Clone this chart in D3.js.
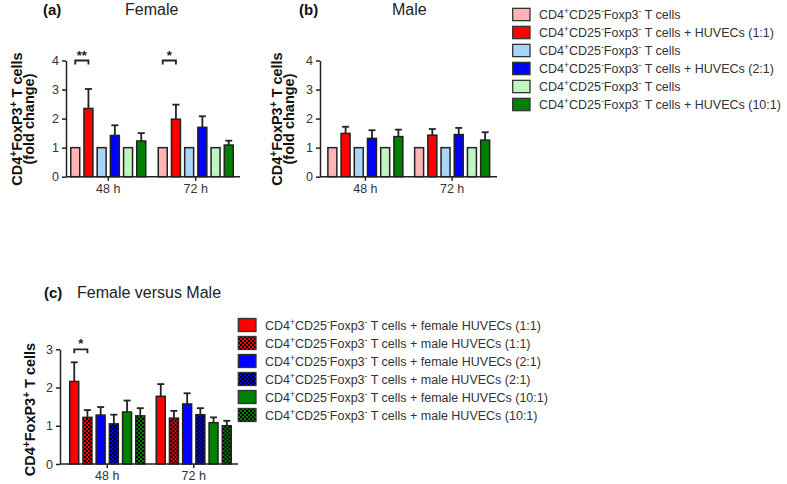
<!DOCTYPE html>
<html><head><meta charset="utf-8">
<script src="https://cdn.jsdelivr.net/npm/d3@7/dist/d3.min.js"></script>
<style>
body{margin:0;background:#fff;}
svg text{font-family:"Liberation Sans",Arial,sans-serif;fill:#222;}
</style></head>
<body><svg id="c" width="787" height="484"></svg>
<script>
// ---------- DATA ----------
const timepoints = ["48 h", "72 h"];
const yTicksAB = [0, 1, 2, 3, 4];
const yTicksC = [0, 1, 2, 3];

const seriesAB = [
  "CD4{+}CD25{-}Foxp3{-} T cells",
  "CD4{+}CD25{-}Foxp3{-} T cells + HUVECs (1:1)",
  "CD4{+}CD25{-}Foxp3{-} T cells",
  "CD4{+}CD25{-}Foxp3{-} T cells + HUVECs (2:1)",
  "CD4{+}CD25{-}Foxp3{-} T cells",
  "CD4{+}CD25{-}Foxp3{-} T cells + HUVECs (10:1)"
];
const colorsAB = ["#ffb5b5", "#ff0000", "#a8d6fa", "#0000ff", "#bff5bf", "#008000"];

// Female fold change (rows = timepoints, cols = series)
const femaleMean48 = [1, 2.35, 1, 1.42, 1, 1.23];
const femaleSem48  = [0, 0.67, 0, 0.35, 0, 0.27];
const femaleMean72 = [1, 1.98, 1, 1.70, 1, 1.09];
const femaleSem72  = [0, 0.50, 0, 0.38, 0, 0.15];

// Male fold change
const maleMean48 = [1, 1.49, 1, 1.32, 1, 1.38];
const maleSem48  = [0, 0.23, 0, 0.28, 0, 0.24];
const maleMean72 = [1, 1.43, 1, 1.45, 1, 1.26];
const maleSem72  = [0, 0.21, 0, 0.23, 0, 0.27];

// Female versus Male
const seriesC = [
  "CD4{+}CD25{-}Foxp3{-} T cells + female HUVECs (1:1)",
  "CD4{+}CD25{-}Foxp3{-} T cells + male HUVECs (1:1)",
  "CD4{+}CD25{-}Foxp3{-} T cells + female HUVECs (2:1)",
  "CD4{+}CD25{-}Foxp3{-} T cells + male HUVECs (2:1)",
  "CD4{+}CD25{-}Foxp3{-} T cells + female HUVECs (10:1)",
  "CD4{+}CD25{-}Foxp3{-} T cells + male HUVECs (10:1)"
];
const colorsC = ["#ff0000", "#ff0000", "#0000ff", "#0000ff", "#008000", "#008000"];
const checkedC = [false, true, false, true, false, true];
const fvmMean48 = [2.16, 1.22, 1.28, 1.05, 1.36, 1.26];
const fvmSem48  = [0.50, 0.19, 0.21, 0.24, 0.30, 0.20];
const fvmMean72 = [1.77, 1.20, 1.57, 1.29, 1.08, 1.00];
const fvmSem72  = [0.32, 0.19, 0.28, 0.17, 0.14, 0.13];

// significance: [timepoint index, series i, series j, label]
const sigA = [[0, 0, 1, "**"], [1, 0, 1, "*"]];
const sigC = [[0, 0, 1, "*"]];

const yTitleAB = ["CD4{+}FoxP3{+} T cells", "(fold change)"];
const yTitleC = ["CD4{+}FoxP3{+} T cells"];

// ---------- DRAW ----------
const svg = d3.select("#c");
const defs = svg.append("defs");
["#ff0000", "#0000ff", "#008000"].forEach((c, i) => {
  const p = defs.append("pattern").attr("id", "chk" + i).attr("patternUnits", "userSpaceOnUse")
    .attr("width", 4).attr("height", 4);
  p.append("rect").attr("width", 4).attr("height", 4).attr("fill", c);
  p.append("rect").attr("width", 2).attr("height", 2).attr("fill", "#000");
  p.append("rect").attr("x", 2).attr("y", 2).attr("width", 2).attr("height", 2).attr("fill", "#000");
});
const chkId = {"#ff0000": "chk0", "#0000ff": "chk1", "#008000": "chk2"};

function richText(sel, str, supSize, shift) {
  const parts = str.split(/(\{[^}]*\})/).filter(s => s.length);
  let prevSup = false;
  parts.forEach(p => {
    if (p.startsWith("{")) {
      sel.append("tspan").attr("dy", prevSup ? 0 : -shift).attr("font-size", supSize).text(p.slice(1, -1));
      prevSup = true;
    } else {
      sel.append("tspan").attr("dy", prevSup ? shift : 0).text(p);
      prevSup = false;
    }
  });
}

function panel(o) {
  const g = svg.append("g");
  const y = d3.scaleLinear().domain([0, o.ticks[o.ticks.length - 1]]).range([o.y0, o.yTop]);
  const x0 = d3.scaleBand().domain(timepoints).range(o.xr);
  const step = x0.bandwidth();
  const gw = 75;
  const x1 = d3.scaleBand().domain(d3.range(6)).range([(step - gw) / 2, (step + gw) / 2]).paddingInner(0.32);

  const rows = [{t: timepoints[0], m: o.mean[0], s: o.sem[0]}, {t: timepoints[1], m: o.mean[1], s: o.sem[1]}];
  rows.forEach(r => {
    const gg = g.append("g").attr("transform", `translate(${x0(r.t)},0)`);
    r.m.forEach((v, i) => {
      const fill = o.checked && o.checked[i] ? `url(#${chkId[o.colors[i]]})` : o.colors[i];
      gg.append("rect").attr("x", x1(i)).attr("y", y(v)).attr("width", x1.bandwidth())
        .attr("height", y(0) - y(v)).attr("fill", fill).attr("stroke", "#222").attr("stroke-width", 1.5);
      if (r.s[i] > 0) {
        const cx = x1(i) + x1.bandwidth() / 2;
        gg.append("line").attr("x1", cx).attr("x2", cx).attr("y1", y(v)).attr("y2", y(v + r.s[i]))
          .attr("stroke", "#222").attr("stroke-width", 1.8);
        gg.append("line").attr("x1", cx - 3.5).attr("x2", cx + 3.5).attr("y1", y(v + r.s[i])).attr("y2", y(v + r.s[i]))
          .attr("stroke", "#222").attr("stroke-width", 1.8);
      }
    });
  });

  // axes
  const ya = g.append("g").attr("transform", `translate(${o.ax},0)`)
    .call(d3.axisLeft(y).tickValues(o.ticks).tickFormat(d3.format("d")).tickSize(4).tickSizeOuter(0).tickPadding(3));
  ya.select(".domain").attr("stroke", "#222").attr("stroke-width", 1.5);
  ya.selectAll(".tick line").attr("stroke", "#222").attr("stroke-width", 1.5);
  ya.selectAll(".tick text").attr("font-size", 12.5).style("fill", "#333");

  const xa = g.append("g").attr("transform", `translate(0,${o.y0})`)
    .call(d3.axisBottom(x0).tickSize(4).tickSizeOuter(0).tickPadding(3));
  xa.select(".domain").attr("d", `M${o.ax},0H${o.xEnd}`).attr("stroke", "#222").attr("stroke-width", 1.5);
  xa.selectAll(".tick line").attr("stroke", "#222").attr("stroke-width", 1.5);
  xa.selectAll(".tick text").attr("font-size", 12.5).style("fill", "#333");

  // significance
  o.sig.forEach(([ti, i, j, lab]) => {
    const xa_ = x0(timepoints[ti]) + x1(i) + x1.bandwidth() / 2;
    const xb_ = x0(timepoints[ti]) + x1(j) + x1.bandwidth() / 2;
    const yy = y(o.ticks[o.ticks.length - 1]);
    g.append("path").attr("d", `M${xa_},${yy + 4}V${yy}H${xb_}V${yy + 4}`).attr("fill", "none")
      .attr("stroke", "#222").attr("stroke-width", 1.8);
    g.append("text").attr("x", (xa_ + xb_) / 2).attr("y", yy - 1).attr("text-anchor", "middle")
      .attr("font-size", 13).attr("font-weight", "bold").text(lab);
  });

  // y titles
  o.yTitle.forEach((t, k) => {
    const tx = g.append("text").attr("transform", `translate(${o.titleX[k]},${o.titleY}) rotate(-90)`)
      .attr("text-anchor", "middle").attr("font-size", 14.5).attr("font-weight", "bold").style("fill", "#111");
    richText(tx, t, 10, 5);
  });

  // panel label and title
  g.append("text").attr("x", o.labX).attr("y", o.labY).attr("font-size", 15).attr("font-weight", "bold").style("fill", "#111").text(o.lab);
  g.append("text").attr("x", o.headX).attr("y", o.labY).attr("font-size", 16).style("fill", "#222").text(o.head);
}

panel({xr: [64.5, 239.5], ax: 66, xEnd: 240, y0: 176.7, yTop: 60.5, ticks: yTicksAB,
  mean: [femaleMean48, femaleMean72], sem: [femaleSem48, femaleSem72], colors: colorsAB,
  sig: sigA, yTitle: yTitleAB, titleX: [21.5, 34], titleY: 119, lab: "(a)", labX: 43, labY: 15,
  head: "Female", headX: 125});
panel({xr: [322, 495.5], ax: 320, xEnd: 497, y0: 176.7, yTop: 60.5, ticks: yTicksAB,
  mean: [maleMean48, maleMean72], sem: [maleSem48, maleSem72], colors: colorsAB,
  sig: [], yTitle: yTitleAB, titleX: [281.5, 294], titleY: 119, lab: "(b)", labX: 299, labY: 15,
  head: "Male", headX: 392});
panel({xr: [64, 237], ax: 60, xEnd: 238, y0: 464, yTop: 349.3, ticks: yTicksC,
  mean: [fvmMean48, fvmMean72], sem: [fvmSem48, fvmSem72], colors: colorsC, checked: checkedC,
  sig: sigC, yTitle: yTitleC, titleX: [34.5], titleY: 409.5, lab: "(c)", labX: 44, labY: 298,
  head: "Female versus Male", headX: 77});

// legends
function legend(x, yc, w, h, tx, labels, fills) {
  const g = svg.append("g");
  labels.forEach((l, i) => {
    const cy = yc + i * 18;
    g.append("rect").attr("x", x).attr("y", cy - h / 2).attr("width", w).attr("height", h)
      .attr("fill", fills[i]).attr("stroke", "#333").attr("stroke-width", 1.3);
    const t = g.append("text").attr("x", tx).attr("y", cy + 4.5).attr("font-size", 12.5).style("fill", "#333");
    richText(t, l, 8.5, 5);
  });
}
legend(512.7, 14.5, 17.3, 12.3, 539, seriesAB, colorsAB);
legend(238.3, 325, 17.7, 13, 265, seriesC,
  colorsC.map((c, i) => checkedC[i] ? `url(#${chkId[c]})` : c));
</script></body></html>
